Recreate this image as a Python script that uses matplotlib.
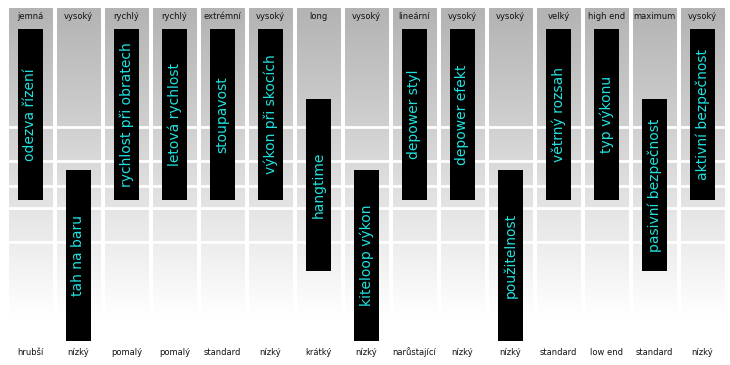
import numpy as np
import matplotlib
matplotlib.use("Agg")
import matplotlib.pyplot as plt
from matplotlib.colors import LinearSegmentedColormap

# ---- data ----
features = ["odezva řízení", "tah na baru", "rychlost při obratech", "letová rychlost",
            "stoupavost", "výkon při skocích", "hangtime", "kiteloop výkon",
            "depower styl", "depower efekt", "použitelnost", "větrný rozsah",
            "typ výkonu", "pasivní bezpečnost", "aktivní bezpečnost"]
top_labels = ["jemná", "vysoký", "rychlý", "rychlý", "extrémní", "vysoký", "long",
              "vysoký", "lineární", "vysoký", "vysoký", "velký", "high end",
              "maximum", "vysoký"]
bottom_labels = ["hrubší", "nízký", "pomalý", "pomalý", "standard", "nízký", "krátký",
                 "nízký", "narůstající", "nízký", "nízký", "standard", "low end",
                 "standard", "nízký"]
levels = [2, 0, 2, 2, 2, 2, 1, 0, 2, 2, 0, 2, 2, 1, 2]
bar_span = 2.43
grid_levels = [3.035, 2.553, 2.199, 1.887, 1.404]

# ---- figure ----
fig = plt.figure(figsize=(7.3, 3.65), dpi=100)
ax = fig.add_axes([0, 0, 1, 1])
ax.set_xlim(-0.635, 14.573)
ax.set_ylim(-0.340, 4.837)
ax.axis("off")

n = len(features)
x = np.arange(n)

# column panels with vertical gradient
panel_top = 4.709
panel_bot = 0.156
cmap = LinearSegmentedColormap.from_list("g", [(0, "#ffffff"), (0.04, "#ffffff"), (1.0, "#b3b3b3")])
grad = np.linspace(1, 0, 256).reshape(-1, 1)
for i in x:
    ax.imshow(grad, extent=[i - 0.448, i + 0.448, panel_bot, panel_top],
              cmap=cmap, vmin=0, vmax=1, aspect="auto", zorder=1, interpolation="bilinear")

for g in grid_levels:
    ax.axhline(g, color="white", lw=2.0, zorder=2)

# floating bars
ax.bar(x, [bar_span] * n, bottom=levels, width=0.52, color="black", zorder=3)

for i in x:
    ax.text(i, levels[i] + bar_span / 2, features[i], rotation=90, ha="center",
            va="center", color="#20e2e0", fontsize=10, zorder=4)
    ax.text(i, 4.61, top_labels[i], ha="center", va="center", fontsize=6,
            color="#111111", zorder=4)
    ax.text(i, -0.156, bottom_labels[i], ha="center", va="center", fontsize=6,
            color="#111111", zorder=4)

fig.savefig("out.png", dpi=100)
